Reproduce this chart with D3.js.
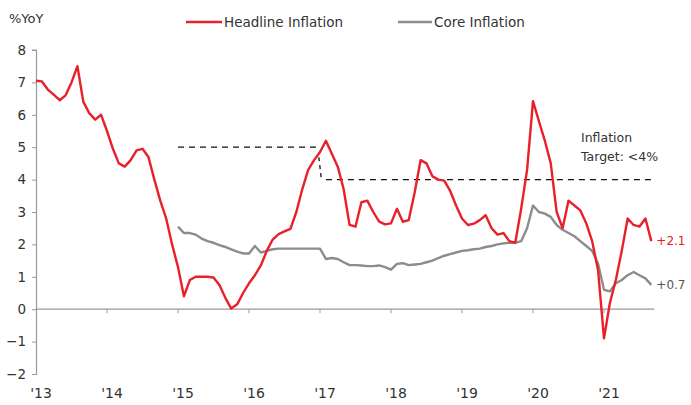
<!DOCTYPE html>
<html><head><meta charset="utf-8">
<script src="https://cdn.jsdelivr.net/npm/d3@7"></script>
<style>body{margin:0;background:#fff}svg{display:block}text{font-family:"DejaVu Sans",Verdana,sans-serif;fill:#333}</style>
</head><body><svg id="c" width="691" height="405"></svg>
<script>
// Monthly data, Jan 2013 .. Sep 2021
const startYear = 2013;
const headline = [7.05,7.03,6.78,6.62,6.45,6.6,7.0,7.5,6.4,6.05,5.85,6.0,
  5.5,4.95,4.5,4.4,4.6,4.9,4.95,4.7,4.0,3.35,2.8,2.0,
  1.3,0.4,0.9,1.0,1.0,1.0,0.98,0.75,0.35,0.02,0.15,0.5,
  0.8,1.05,1.35,1.8,2.15,2.32,2.4,2.48,3.0,3.7,4.3,4.6,
  4.85,5.2,4.8,4.4,3.7,2.6,2.55,3.3,3.35,3.0,2.7,2.62,
  2.65,3.1,2.7,2.75,3.6,4.6,4.5,4.1,4.0,3.97,3.65,3.2,
  2.8,2.6,2.64,2.75,2.9,2.5,2.3,2.35,2.1,2.05,3.1,4.3,
  6.42,5.8,5.2,4.5,3.0,2.5,3.35,3.2,3.05,2.65,2.1,1.2,
  -0.9,0.2,0.9,1.8,2.8,2.6,2.55,2.8,2.1];
const coreStart = 24; // Jan 2015
const core = [2.55,2.35,2.35,2.3,2.18,2.1,2.05,1.98,1.92,1.85,1.78,1.72,
  1.72,1.95,1.75,1.8,1.85,1.87,1.87,1.87,1.87,1.87,1.87,1.87,
  1.87,1.55,1.58,1.55,1.45,1.36,1.36,1.35,1.33,1.33,1.35,1.3,
  1.22,1.4,1.42,1.36,1.38,1.4,1.45,1.5,1.58,1.65,1.7,1.75,
  1.8,1.82,1.85,1.87,1.92,1.95,2.0,2.03,2.05,2.05,2.1,2.5,
  3.2,3.0,2.95,2.85,2.6,2.45,2.35,2.25,2.1,1.95,1.8,1.4,
  0.6,0.55,0.8,0.9,1.05,1.15,1.05,0.95,0.75];
const yearLabels = ["'13","'14","'15","'16","'17","'18","'19","'20","'21"];
const yTicks = [-2,-1,0,1,2,3,4,5,6,7,8];
const seriesNames = ["Headline Inflation","Core Inflation"];
const targetOld = 5, targetNew = 4;
const lastLabels = ["+2.1","+0.7"];

const red = "#e8202a", gray = "#8c8c8c";
const svg = d3.select("#c");
const x = d3.scaleLinear().domain([0, 12*9]).range([36, 675]);
const y = d3.scaleLinear().domain([-2, 8]).range([374, 50]);

// y axis
const yAxis = d3.axisLeft(y).tickValues(yTicks).tickSize(4).tickPadding(6).tickFormat(d3.format("d"));
const gy = svg.append("g").attr("transform","translate(36,0)").call(yAxis);
gy.select(".domain").attr("stroke","#999").attr("stroke-width",1.2).attr("d","M-4,374.5H0.5V50H-4");
gy.selectAll(".tick line").attr("stroke","#999");
gy.selectAll("text").style("font-size","13.5px").attr("fill","#333");

// zero line with year ticks
const x0 = y(0);
svg.append("line").attr("x1",36).attr("x2",x(104)+3).attr("y1",x0).attr("y2",x0).attr("stroke","#999").attr("stroke-width",1.2);
const years = d3.range(1, 9);
svg.selectAll(".yt").data(years).enter().append("line")
  .attr("x1",d=>x(d*12)).attr("x2",d=>x(d*12)).attr("y1",x0).attr("y2",x0+4).attr("stroke","#999");
// x labels
svg.selectAll(".xl").data(yearLabels).enter().append("text")
  .attr("x",(d,i)=>x(i*12)+5).attr("y",398).attr("text-anchor","middle").style("font-size","14px").text(d=>d);

// target lines
svg.append("line").attr("x1",x(24)).attr("x2",x(47.5)).attr("y1",y(targetOld)).attr("y2",y(targetOld))
  .attr("stroke","#111").attr("stroke-width",1.3).attr("stroke-dasharray","6,5");
svg.append("line").attr("x1",x(47.8)).attr("x2",x(48.2)).attr("y1",y(targetOld)+10).attr("y2",y(targetNew)-2)
  .attr("stroke","#111").attr("stroke-width",1.3).attr("stroke-dasharray","4,4");
svg.append("line").attr("x1",x(49)).attr("x2",x(104)).attr("y1",y(targetNew)).attr("y2",y(targetNew))
  .attr("stroke","#111").attr("stroke-width",1.3).attr("stroke-dasharray","6,5");

// lines
const line = d3.line().x(d=>x(d.i)).y(d=>y(d.v));
svg.append("path").datum(core.map((v,k)=>({i:k+coreStart,v})))
  .attr("d",line).attr("fill","none").attr("stroke",gray).attr("stroke-width",2.4).attr("stroke-linejoin","round");
svg.append("path").datum(headline.map((v,i)=>({i,v})))
  .attr("d",line).attr("fill","none").attr("stroke",red).attr("stroke-width",2.4).attr("stroke-linejoin","round");

// end labels
svg.append("text").attr("x",x(104)+5).attr("y",y(headline[headline.length-1])+4).style("font-size","12px").style("fill",red).text(lastLabels[0]);
svg.append("text").attr("x",x(104)+5).attr("y",y(core[core.length-1])+4).style("font-size","12px").style("fill","#555").text(lastLabels[1]);

// target annotation
svg.append("text").attr("x",581).attr("y",142).style("font-size","12.5px").text("Inflation");
svg.append("text").attr("x",581).attr("y",161).style("font-size","12.5px").text("Target: <4%");

// unit + legend
svg.append("text").attr("x",9).attr("y",23).style("font-size","13px").text("%YoY");
const lg = [{c:red,x1:186,x2:222,tx:224},{c:gray,x1:398,x2:432,tx:434}];
lg.forEach((l,i)=>{
  svg.append("line").attr("x1",l.x1).attr("x2",l.x2).attr("y1",22).attr("y2",22).attr("stroke",l.c).attr("stroke-width",2.4);
  svg.append("text").attr("x",l.tx).attr("y",27).style("font-size","13.5px").text(seriesNames[i]);
});
</script></body></html>
